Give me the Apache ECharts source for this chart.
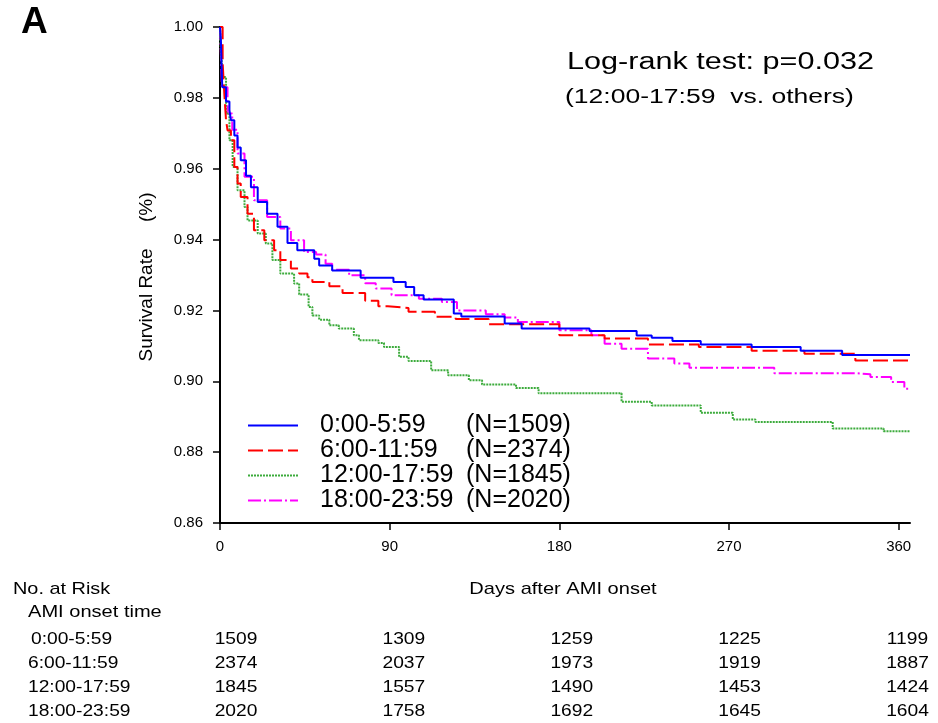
<!DOCTYPE html>
<html>
<head>
<meta charset="utf-8">
<title>Survival by AMI onset time</title>
<script src="https://cdn.jsdelivr.net/npm/echarts@6/dist/echarts.min.js"></script>
<style>
  html, body { margin: 0; padding: 0; background: #fff; }
  #chart { width: 938px; height: 723px; }
</style>
</head>
<body>
<div id="chart"></div>
<script>
// groups (AMI onset time)
const groupNames = ['0:00-5:59', '6:00-11:59', '12:00-17:59', '18:00-23:59'];

// Kaplan-Meier steps: [day, survival]
const survEarlyMorning = [
  [0, 1.000], [0.5, 0.996], [0.8, 0.990], [1.2, 0.983], [3.2, 0.979], [5, 0.9765],
  [5.8, 0.9737], [7.6, 0.9694], [9.3, 0.966], [11, 0.9624], [13.8, 0.958], [16.4, 0.9548],
  [20, 0.9506], [25, 0.9473], [30.5, 0.9436], [35.8, 0.939], [41, 0.937], [50, 0.9346],
  [52.6, 0.9327], [59.5, 0.9313], [74.6, 0.9292], [92, 0.928], [98.5, 0.9266], [103, 0.9243],
  [108, 0.9231], [124, 0.9191], [128, 0.9183], [151, 0.9163], [160, 0.9149], [196, 0.9142],
  [221, 0.9129], [229, 0.9123], [240, 0.9114], [255, 0.9104], [282, 0.9097], [308, 0.9086],
  [330, 0.9074], [366, 0.9074]
];
const survMorning = [
  [0, 1.000], [1.4, 0.990], [2.3, 0.981], [3.2, 0.9737], [4, 0.9708], [5.8, 0.968],
  [7.6, 0.9605], [9.3, 0.9558], [11, 0.952], [14.6, 0.9473], [18, 0.9426], [23.5, 0.9398],
  [28.7, 0.937], [32, 0.9342], [37.6, 0.9318], [42, 0.9304], [46.4, 0.9294], [49, 0.928],
  [58, 0.9268], [65, 0.9249], [77, 0.9227], [84, 0.9212], [89, 0.9207], [100, 0.9196],
  [114, 0.9182], [125, 0.9176], [142.5, 0.9161], [180, 0.913], [204, 0.9121], [227, 0.9104],
  [254, 0.9097], [282, 0.9086], [310, 0.9078], [337, 0.9059], [366, 0.9059]
];
const survAfternoon = [
  [0, 1.000], [0.5, 0.993], [1.5, 0.9859], [3.2, 0.9756], [5, 0.968], [6.7, 0.9605],
  [9.3, 0.9539], [13, 0.9492], [14.6, 0.9454], [20, 0.9417], [24.3, 0.9389], [27.8, 0.9342],
  [32, 0.9304], [39.3, 0.9276], [42, 0.9245], [47, 0.921], [49, 0.9186], [52.6, 0.9174],
  [58, 0.9158], [63, 0.9149], [71, 0.913], [73.7, 0.9116], [84, 0.9108], [87, 0.9097],
  [95, 0.9069], [100, 0.9057], [112, 0.9031], [121, 0.9017], [132, 0.9003], [139, 0.8991],
  [157, 0.8981], [169, 0.8966], [213, 0.8942], [229, 0.8932], [255, 0.8911], [272, 0.8892],
  [284, 0.8885], [325, 0.8867], [352, 0.8859], [366, 0.8859]
];
const survEvening = [
  [0, 1.000], [0.5, 0.992], [1, 0.983], [4, 0.9756], [6.5, 0.971], [9.3, 0.9643],
  [13, 0.9577], [18, 0.9511], [25, 0.9464], [32, 0.9431], [37.6, 0.9398], [44.6, 0.9365],
  [51, 0.9358], [56, 0.9332], [59.5, 0.9315], [68.5, 0.9299], [77, 0.9277], [82.6, 0.9262],
  [91, 0.9243], [105.5, 0.9233], [117.7, 0.9224], [125.7, 0.92], [141, 0.9189], [151, 0.918],
  [158, 0.9167], [180, 0.9144], [197, 0.913], [204, 0.9106], [213, 0.9092], [227, 0.9064],
  [241, 0.905], [249, 0.9038], [294, 0.9023], [337, 0.902], [345, 0.9012], [356, 0.8998],
  [363, 0.8979], [366, 0.8979]
];

// axis ticks
const dayTicks = [0, 90, 180, 270, 360];

// number at risk table
const riskEarlyMorning = [1509, 1309, 1259, 1225, 1199];
const riskMorning = [2374, 2037, 1973, 1919, 1887];
const riskAfternoon = [1845, 1557, 1490, 1453, 1424];
const riskEvening = [2020, 1758, 1692, 1645, 1604];

const survData = [survEarlyMorning, survMorning, survAfternoon, survEvening];
const riskData = [riskEarlyMorning, riskMorning, riskAfternoon, riskEvening];

const FONT = 'Liberation Sans, Arial, sans-serif';
const lineStyles = [
  { color: '#0000ff', width: 2, type: 'solid' },
  { color: '#ff0000', width: 2, type: [15, 5] },
  { color: '#3cab3c', width: 2, type: [2, 1] },
  { color: '#ff00ff', width: 2, type: [13, 3, 2, 3] }
];

const chart = echarts.init(document.getElementById('chart'));

const option = {
  animation: false,
  backgroundColor: '#ffffff',
  grid: { left: 220, right: 28, top: 27, bottom: 200, containLabel: false },
  xAxis: {
    type: 'value',
    min: 0,
    max: 366,
    interval: 90,
    axisLine: { lineStyle: { color: '#000', width: 2 } },
    axisTick: { length: 7, customValues: dayTicks, lineStyle: { color: '#000', width: 1.5 } },
    axisLabel: { customValues: dayTicks, margin: 16, fontSize: 15, color: '#000', fontFamily: FONT },
    splitLine: { show: false }
  },
  yAxis: {
    type: 'value',
    min: 0.86,
    max: 1.0,
    interval: 0.02,
    axisLine: { show: true, lineStyle: { color: '#000', width: 2 } },
    axisTick: { show: true, length: 7, lineStyle: { color: '#000', width: 1.5 } },
    axisLabel: {
      margin: 17, fontSize: 15, color: '#000', fontFamily: FONT,
      formatter: v => v.toFixed(2)
    },
    splitLine: { show: false }
  },
  legend: {
    orient: 'vertical',
    left: 247,
    top: 413,
    padding: 0,
    itemGap: 0,
    itemWidth: 50,
    itemHeight: 14,
    data: groupNames,
    itemStyle: { opacity: 0, color: 'transparent', borderWidth: 0 },
    formatter: name => {
      const n = riskData[groupNames.indexOf(name)][0];
      return '{g| }{a|' + name + '}{b|(N=' + n + ')}';
    },
    textStyle: {
      fontFamily: FONT, fontSize: 25, color: '#000',
      rich: {
        g: { width: 17, fontSize: 25, fontFamily: FONT, lineHeight: 25 },
        a: { width: 146, fontSize: 25, fontFamily: FONT, lineHeight: 25, color: '#000' },
        b: { fontSize: 25, fontFamily: FONT, lineHeight: 25, color: '#000' }
      }
    }
  },
  series: survData.map((d, i) => ({
    name: groupNames[i],
    type: 'line',
    step: 'end',
    symbol: 'none',
    showSymbol: false,
    data: d,
    lineStyle: lineStyles[i],
    itemStyle: { color: lineStyles[i].color },
    z: 10 - i
  }))
};

chart.setOption(option);

// text outside the plot: panel letter, test note, axis names, risk table
const graphics = [
  { type: 'text', x: 21, y: 23, style: { text: 'A', font: 'bold 37px ' + FONT, fill: '#000', textVerticalAlign: 'middle' } },
  { type: 'text', x: 567, y: 63, scaleX: 1.33, style: { text: 'Log-rank test: p=0.032', font: '23px ' + FONT, fill: '#000', textVerticalAlign: 'middle' } },
  { type: 'text', x: 565, y: 98, scaleX: 1.36, style: { text: '(12:00-17:59  vs. others)', font: '19.5px ' + FONT, fill: '#000', textVerticalAlign: 'middle' } },
  { type: 'text', x: 147, y: 277, rotation: Math.PI / 2, style: { text: 'Survival Rate     (%)', font: '19px ' + FONT, fill: '#000', textAlign: 'center', textVerticalAlign: 'middle' } },
  { type: 'text', x: 563, y: 589, scaleX: 1.18, style: { text: 'Days after AMI onset', font: '17px ' + FONT, fill: '#000', textAlign: 'center', textVerticalAlign: 'middle' } },
  { type: 'text', x: 13, y: 589, scaleX: 1.17, style: { text: 'No. at Risk', font: '17px ' + FONT, fill: '#000', textVerticalAlign: 'middle' } },
  { type: 'text', x: 28, y: 612, scaleX: 1.18, style: { text: 'AMI onset time', font: '17px ' + FONT, fill: '#000', textVerticalAlign: 'middle' } }
];

// risk table columns sit a little right of each tick, drifting left across the axis
const rowY = [640, 664, 688, 712];
groupNames.forEach((g, r) => {
  graphics.push({ type: 'text', x: r === 0 ? 31 : 28, y: rowY[r], scaleX: 1.2,
    style: { text: g, font: '16px ' + FONT, fill: '#000', textVerticalAlign: 'middle' } });
  dayTicks.forEach((d, c) => {
    const px = chart.convertToPixel({ gridIndex: 0 }, [d, 0.9])[0] + 16 - c * 1.8;
    graphics.push({ type: 'text', x: px, y: rowY[r], scaleX: 1.2,
      style: { text: String(riskData[r][c]), font: '16px ' + FONT, fill: '#000', textAlign: 'center', textVerticalAlign: 'middle' } });
  });
});

chart.setOption({ graphic: graphics });
</script>
</body>
</html>
